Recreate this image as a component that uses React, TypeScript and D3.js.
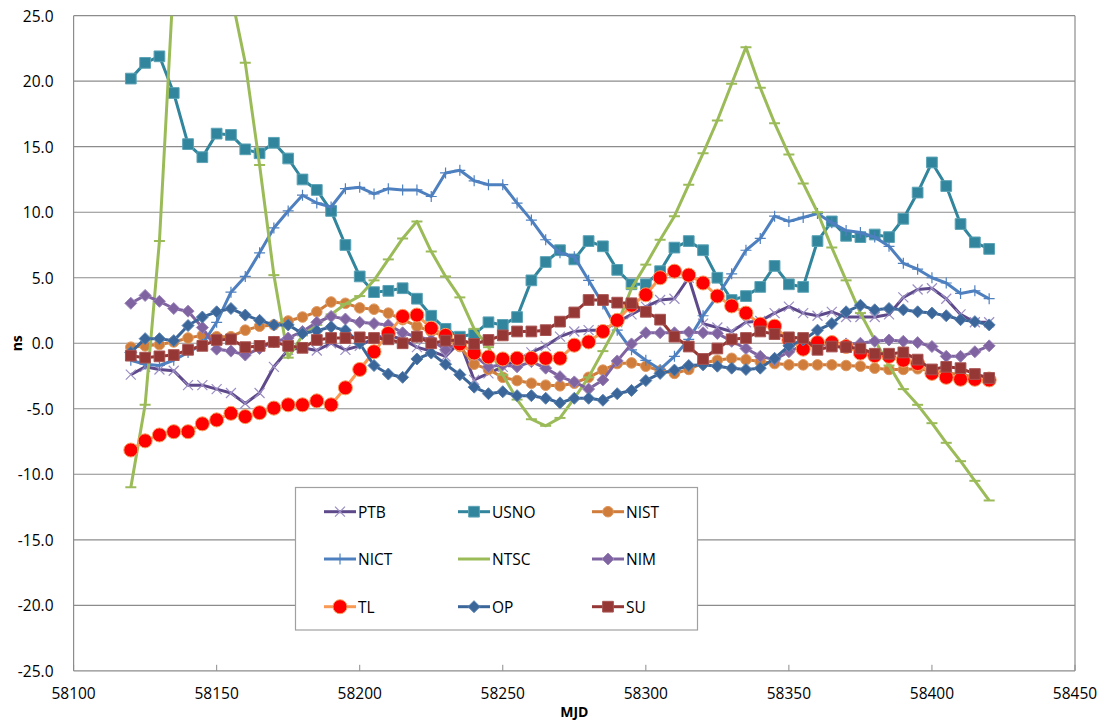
import React from "react";
import * as d3 from "d3";

const MJD = [58120, 58125, 58130, 58135, 58140, 58145, 58150, 58155, 58160, 58165, 58170, 58175, 58180, 58185, 58190, 58195, 58200, 58205, 58210, 58215, 58220, 58225, 58230, 58235, 58240, 58245, 58250, 58255, 58260, 58265, 58270, 58275, 58280, 58285, 58290, 58295, 58300, 58305, 58310, 58315, 58320, 58325, 58330, 58335, 58340, 58345, 58350, 58355, 58360, 58365, 58370, 58375, 58380, 58385, 58390, 58395, 58400, 58405, 58410, 58415, 58420];

const PTB = [-2.4, -1.8, -2.0, -2.1, -3.2, -3.2, -3.5, -3.8, -4.6, -3.8, -1.8, -0.5, -0.35, -0.55, 0.0, -0.5, -0.2, 0.4, 0.6, 0.3, -0.3, -0.6, -1.0, 0.1, -2.8, -2.3, -1.8, -1.3, -0.7, -0.2, 0.5, 0.9, 1.0, 1.0, 1.6, 2.2, 2.8, 3.3, 3.4, 5.0, 1.5, 1.2, 0.9, 1.6, 1.7, 2.3, 2.8, 2.3, 2.1, 2.4, 2.0, 2.0, 2.0, 2.2, 3.5, 4.1, 4.2, 3.4, 2.2, 1.6, 1.6];
const USNO = [20.2, 21.4, 21.9, 19.1, 15.2, 14.2, 16.0, 15.9, 14.8, 14.5, 15.3, 14.1, 12.5, 11.7, 10.1, 7.5, 5.1, 3.9, 4.0, 4.2, 3.4, 2.1, 1.1, 0.5, 0.7, 1.6, 1.4, 2.0, 4.8, 6.2, 7.1, 6.4, 7.8, 7.4, 5.6, 4.5, 4.5, 5.5, 7.3, 7.8, 7.1, 5.0, 3.3, 3.6, 4.3, 5.9, 4.5, 4.3, 7.8, 9.3, 8.2, 8.1, 8.3, 8.1, 9.5, 11.5, 13.8, 12.0, 9.1, 7.7, 7.2];
const NIST = [-0.3, -0.2, -0.1, 0.1, 0.4, 0.6, 0.5, 0.5, 1.0, 1.3, 1.4, 1.7, 2.0, 2.4, 3.15, 3.05, 2.7, 2.6, 2.3, 1.8, 1.3, 0.9, 0.5, -0.25, -1.6, -2.0, -2.6, -2.85, -3.05, -3.2, -3.25, -3.05, -2.6, -2.05, -1.55, -1.5, -1.75, -2.1, -2.3, -2.0, -1.5, -1.3, -1.15, -1.25, -1.4, -1.55, -1.65, -1.65, -1.65, -1.65, -1.7, -1.75, -1.9, -2.0, -2.0, -1.95, -2.1, -2.25, -2.4, -2.55, -2.6];
const NICT = [-1.3, -1.6, -1.7, -1.3, -0.7, -0.1, 1.6, 3.9, 5.1, 6.9, 8.8, 10.1, 11.3, 10.7, 10.4, 11.8, 11.9, 11.4, 11.8, 11.7, 11.7, 11.2, 13.0, 13.2, 12.4, 12.1, 12.1, 10.7, 9.4, 7.9, 6.9, 6.6, 4.8, 3.0, 1.0, -0.5, -1.3, -2.0, -1.0, 0.3, 2.1, 3.6, 5.3, 7.1, 8.0, 9.7, 9.3, 9.6, 9.9, 9.2, 8.6, 8.45, 8.1, 7.4, 6.1, 5.65, 5.0, 4.6, 3.8, 4.0, 3.4];
const NTSC = [-11.0, -4.7, 7.8, 28, 38, 38, 33, 26.7, 21.4, 13.6, 5.2, -1.1, 0.6, 1.4, 2.2, 3.0, 3.6, 4.8, 6.4, 8.0, 9.3, 7.0, 5.1, 3.5, 1.1, -0.3, -2.4, -4.3, -5.8, -6.3, -5.7, -4.2, -2.6, -0.6, 1.4, 4.2, 6.0, 7.9, 9.7, 12.1, 14.5, 17.0, 19.8, 22.6, 19.5, 16.8, 14.4, 12.2, 10.0, 7.3, 4.8, 2.3, 0.25, -1.7, -3.5, -4.7, -6.1, -7.6, -9.0, -10.5, -12.0];
const NIM = [3.05, 3.65, 3.2, 2.65, 2.45, 1.2, -0.45, -0.6, -0.9, -0.4, 0.1, 0.4, 0.9, 1.6, 2.05, 1.85, 1.6, 1.5, 1.4, 0.8, 0.5, 0.25, -0.5, 0.1, -0.9, -1.8, -1.65, -1.8, -1.4, -1.9, -2.55, -2.95, -3.5, -2.8, -1.35, -0.05, 0.8, 0.8, 0.8, 0.85, 0.8, 0.75, 0.15, -0.4, -1.0, -1.25, -0.65, -0.15, -0.2, 0.0, -0.05, 0.0, 0.15, 0.25, 0.15, 0.05, -0.25, -1.0, -1.0, -0.65, -0.2];
const TL = [-8.15, -7.45, -7.0, -6.75, -6.75, -6.15, -5.85, -5.35, -5.6, -5.3, -4.95, -4.7, -4.7, -4.4, -4.7, -3.4, -2.0, -0.65, 0.75, 2.05, 2.15, 1.15, 0.6, -0.05, -0.75, -1.05, -1.2, -1.15, -1.15, -1.15, -1.15, -0.15, 0.1, 0.9, 1.75, 2.9, 3.7, 5.0, 5.5, 5.2, 4.6, 3.6, 2.85, 2.3, 1.45, 1.3, 0.25, -0.45, 0.05, 0.05, -0.25, -0.75, -0.95, -1.0, -1.3, -1.55, -2.3, -2.6, -2.75, -2.75, -2.8];
const OP = [-0.7, 0.35, 0.35, 0.2, 1.35, 2.0, 2.4, 2.65, 2.15, 1.75, 1.4, 1.4, 0.75, 0.95, 1.25, 1.0, 0.0, -1.7, -2.35, -2.6, -1.2, -0.75, -1.6, -2.4, -3.35, -3.85, -3.7, -4.0, -4.0, -4.2, -4.55, -4.2, -4.2, -4.35, -3.85, -3.6, -2.85, -2.3, -2.05, -1.7, -1.65, -1.75, -1.9, -2.0, -1.9, -1.15, -0.2, 0.25, 1.0, 1.5, 2.4, 2.9, 2.55, 2.65, 2.55, 2.4, 2.3, 2.1, 1.8, 1.65, 1.4];
const SU = [-0.95, -1.1, -1.0, -0.9, -0.5, -0.2, 0.25, 0.3, -0.3, -0.2, 0.1, -0.2, -0.35, 0.25, 0.4, 0.4, 0.45, 0.4, 0.3, 0.0, 0.5, 0.0, 0.2, 0.25, -0.05, 0.25, 0.6, 0.9, 0.9, 1.0, 1.65, 2.35, 3.3, 3.3, 3.1, 3.05, 2.4, 1.8, 0.5, -0.25, -1.2, -0.4, 0.3, 0.4, 0.9, 0.7, 0.45, 0.4, -0.5, -0.25, -0.3, -0.4, -0.8, -0.8, -0.7, -1.25, -2.0, -1.8, -1.9, -2.35, -2.65];

const X_TICKS = [58100, 58150, 58200, 58250, 58300, 58350, 58400, 58450];
const Y_TICKS = [-25, -20, -15, -10, -5, 0, 5, 10, 15, 20, 25];

type Marker = "times" | "square" | "circle" | "plus" | "dash" | "diamond" | "bigcircle";

const SERIES: { name: string; values: number[]; color: string; marker: Marker; mFill: string; mStroke: string }[] = [
  { name: "PTB", values: PTB, color: "#5E4A8A", marker: "times", mFill: "none", mStroke: "#9C8EC4" },
  { name: "USNO", values: USNO, color: "#31859C", marker: "square", mFill: "#31859C", mStroke: "#5BA3B6" },
  { name: "NIST", values: NIST, color: "#D07C3A", marker: "circle", mFill: "#D07C3A", mStroke: "#E09A60" },
  { name: "NICT", values: NICT, color: "#4E80C0", marker: "plus", mFill: "none", mStroke: "#4E80C0" },
  { name: "NTSC", values: NTSC, color: "#9BBB59", marker: "dash", mFill: "none", mStroke: "#9BBB59" },
  { name: "NIM", values: NIM, color: "#8064A2", marker: "diamond", mFill: "#8064A2", mStroke: "#9A84B8" },
  { name: "TL", values: TL, color: "#F99A54", marker: "bigcircle", mFill: "#FF0000", mStroke: "#F9A060" },
  { name: "OP", values: OP, color: "#3B6699", marker: "diamond", mFill: "#3B6699", mStroke: "#5B82B0" },
  { name: "SU", values: SU, color: "#953735", marker: "square", mFill: "#953735", mStroke: "#A85452" },
];

const W = 1105;
const H = 722;
const LEFT = 73.6;
const RIGHT = 1075;
const TOP = 15.7;
const BOTTOM = 670.8;

const FONT = "'Open Sans', 'Noto Sans', sans-serif";

function markerPath(m: Marker): string {
  switch (m) {
    case "times":
      return "M-5,-5L5,5M-5,5L5,-5";
    case "plus":
      return "M-5.5,0L5.5,0M0,-5.5L0,5.5";
    case "dash":
      return "M-5.5,0L5.5,0";
    case "square":
      return d3.symbol(d3.symbolSquare, 115)() as string;
    case "circle":
      return d3.symbol(d3.symbolCircle, 88)() as string;
    case "bigcircle":
      return d3.symbol(d3.symbolCircle, 155)() as string;
    case "diamond":
      return "M0,-6L6,0L0,6L-6,0Z";
  }
}

function MarkerShape({ s, x, y }: { s: (typeof SERIES)[number]; x: number; y: number }) {
  const d = markerPath(s.marker);
  const stroked = s.marker === "times" || s.marker === "plus" || s.marker === "dash";
  return (
    <path
      d={d}
      transform={`translate(${x},${y})`}
      fill={stroked ? "none" : s.mFill}
      stroke={s.mStroke}
      strokeWidth={stroked ? (s.marker === "dash" ? 2 : 1.2) : 1}
    />
  );
}

export default function App() {
  const x = d3.scaleLinear().domain([58100, 58450]).range([LEFT, RIGHT]);
  const y = d3.scaleLinear().domain([-25, 25]).range([BOTTOM, TOP]);

  const line = d3
    .line<number>()
    .x((_, i) => x(MJD[i]))
    .y((v) => y(v));

  const legendRows = [511.7, 559, 606.7];
  const legendCols = [324, 458, 592];

  return (
    <div style={{ position: "absolute", left: 0, top: 0 }}>
      <svg width={W} height={H} style={{ display: "block", background: "#fff" }}>
        <defs>
          <clipPath id="plotclip">
            <rect x={LEFT} y={TOP} width={RIGHT - LEFT} height={BOTTOM - TOP} />
          </clipPath>
        </defs>
        {Y_TICKS.map((t) => (
          <line key={t} x1={LEFT} x2={RIGHT} y1={y(t)} y2={y(t)} stroke="#8C8C8C" strokeWidth={1.2} />
        ))}
        <line x1={LEFT} x2={LEFT} y1={TOP} y2={BOTTOM} stroke="#8C8C8C" strokeWidth={1.2} />
        <line x1={RIGHT} x2={RIGHT} y1={TOP} y2={BOTTOM} stroke="#8C8C8C" strokeWidth={1.2} />
        {X_TICKS.map((t) => (
          <line key={t} x1={x(t)} x2={x(t)} y1={BOTTOM} y2={BOTTOM - 6} stroke="#8C8C8C" strokeWidth={1} />
        ))}
        {Y_TICKS.map((t) => (
          <text key={t} x={53.5} y={y(t)} textAnchor="end" dominantBaseline="central" fontFamily={FONT} fontSize={15.5} fill="#000">
            {t.toFixed(1)}
          </text>
        ))}
        {X_TICKS.map((t) => (
          <text key={t} x={x(t)} y={693} textAnchor="middle" dominantBaseline="central" fontFamily={FONT} fontSize={15.5} fill="#000">
            {t}
          </text>
        ))}
        <text x={(LEFT + RIGHT) / 2} y={711} textAnchor="middle" dominantBaseline="central" fontFamily={FONT} fontSize={14} fontWeight="bold">
          MJD
        </text>
        <text
          transform={`translate(16,${(TOP + BOTTOM) / 2}) rotate(-90)`}
          textAnchor="middle"
          dominantBaseline="central"
          fontFamily={FONT}
          fontSize={14}
          fontWeight="bold"
        >
          ns
        </text>
        <g clipPath="url(#plotclip)">
          {SERIES.map((s) => (
            <g key={s.name}>
              <path d={line(s.values) as string} fill="none" stroke={s.color} strokeWidth={3} strokeLinejoin="round" />
              {s.values.map((v, i) => (
                <MarkerShape key={i} s={s} x={x(MJD[i])} y={y(v)} />
              ))}
            </g>
          ))}
        </g>
        <rect x={295.5} y={487.5} width={402} height={142.5} fill="#fff" stroke="#A0A0A0" strokeWidth={1.2} />
        {SERIES.map((s, i) => {
          const cx = legendCols[i % 3];
          const cy = legendRows[Math.floor(i / 3)];
          return (
            <g key={s.name}>
              <line x1={cx} x2={cx + 32} y1={cy} y2={cy} stroke={s.color} strokeWidth={3} />
              {s.marker !== "dash" && <MarkerShape s={s} x={cx + 16} y={cy} />}
              <text x={cx + 34} y={cy} dominantBaseline="central" fontFamily={FONT} fontSize={15.5} fill="#000">
                {s.name}
              </text>
            </g>
          );
        })}
      </svg>
    </div>
  );
}
